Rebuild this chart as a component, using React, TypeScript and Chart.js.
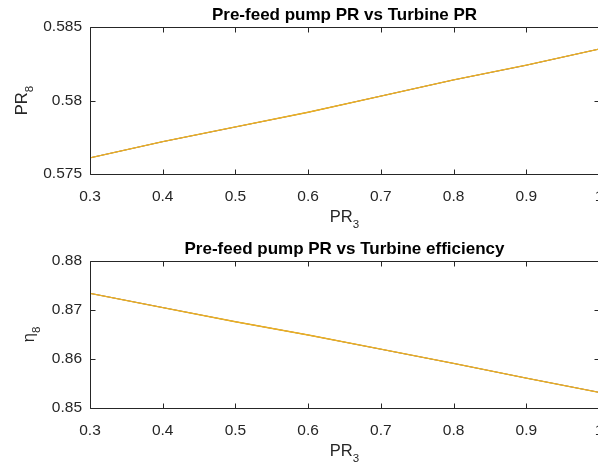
import React, { useEffect, useRef } from 'react';
import { Chart, registerables } from 'chart.js';

Chart.register(...registerables);

// ---- data ----
const prefeedPR = [0.3, 0.4, 0.5, 0.6, 0.7, 0.8, 0.9, 1.0];
const turbinePR = [0.5761, 0.5772, 0.5782, 0.5792, 0.5803, 0.5814, 0.5824, 0.5835];
const turbineEff = [0.8734, 0.8705, 0.8676, 0.8649, 0.8620, 0.8591, 0.8561, 0.8532];
const xRange = [0.3, 1.0];
const topYRange = [0.575, 0.585];
const bottomYRange = [0.85, 0.88];
const topTitle = 'Pre-feed pump PR vs Turbine PR';
const bottomTitle = 'Pre-feed pump PR vs Turbine efficiency';
const seriesColors = ['#0072BD', '#D95319', '#EDB120'];
const seriesWidths = [0.7, 0.7, 1.3];

const FONT = '"Liberation Sans", Arial, Helvetica, sans-serif';
const AXIS_COLOR = '#262626';

type Lbl = { main: string; sub: string };

const matlabAxes = {
  id: 'matlabAxes',
  afterDraw(chart: any, _args: any, opts: any) {
    const ctx = chart.ctx;
    const { left, right, top, bottom } = chart.chartArea;
    const xs = chart.scales.x;
    const ys = chart.scales.y;
    ctx.save();
    ctx.strokeStyle = AXIS_COLOR;
    ctx.lineWidth = 1;
    const L = Math.round(left) + 0.5, R = Math.round(right) + 0.5;
    const T = Math.round(top) + 0.5, B = Math.round(bottom) + 0.5;
    ctx.beginPath();
    ctx.rect(L, T, R - L, B - T);
    ctx.stroke();
    const tl = 5;
    ctx.beginPath();
    xs.ticks.forEach((t: any) => {
      const p = Math.round(xs.getPixelForValue(t.value)) + 0.5;
      ctx.moveTo(p, B); ctx.lineTo(p, B - tl);
      ctx.moveTo(p, T); ctx.lineTo(p, T + tl);
    });
    ys.ticks.forEach((t: any) => {
      const p = Math.round(ys.getPixelForValue(t.value)) + 0.5;
      ctx.moveTo(L, p); ctx.lineTo(L + tl, p);
      ctx.moveTo(R, p); ctx.lineTo(R - tl, p);
    });
    ctx.stroke();

    const cx = (left + right) / 2;
    // title
    ctx.fillStyle = '#000';
    ctx.font = `bold 17px ${FONT}`;
    ctx.textAlign = 'center';
    ctx.textBaseline = 'alphabetic';
    ctx.fillText(opts.title, cx, top - 7);

    // x label
    const xl: Lbl = opts.xLabel;
    ctx.fillStyle = AXIS_COLOR;
    ctx.font = `16.5px ${FONT}`;
    const wMain = ctx.measureText(xl.main).width;
    ctx.font = `11.5px ${FONT}`;
    const wSub = ctx.measureText(xl.sub).width;
    const x0 = cx - (wMain + wSub) / 2;
    ctx.textAlign = 'left';
    ctx.font = `16.5px ${FONT}`;
    ctx.fillText(xl.main, x0, bottom + 48);
    ctx.font = `11.5px ${FONT}`;
    ctx.fillText(xl.sub, x0 + wMain, bottom + 54);

    // y label (rotated)
    const yl: Lbl = opts.yLabel;
    const cy = (top + bottom) / 2;
    ctx.translate(opts.yLabelX, cy);
    ctx.rotate(-Math.PI / 2);
    ctx.font = `16.5px ${FONT}`;
    const ywMain = ctx.measureText(yl.main).width;
    ctx.font = `11.5px ${FONT}`;
    const ywSub = ctx.measureText(yl.sub).width;
    const y0 = -(ywMain + ywSub) / 2;
    ctx.font = `16.5px ${FONT}`;
    ctx.fillText(yl.main, y0, 0);
    ctx.font = `11.5px ${FONT}`;
    ctx.fillText(yl.sub, y0 + ywMain, 6);
    ctx.restore();
  },
};

const fmt = (v: any) => String(Number(Number(v).toFixed(4)));

function makeConfig(
  yValues: number[],
  yRange: number[],
  yStep: number,
  title: string,
  yLabel: Lbl,
  yLabelX: number,
  topPad: number,
  xAxisHeight: number
): any {
  const pts = prefeedPR.map((x, i) => ({ x, y: yValues[i] }));
  return {
    type: 'line',
    data: {
      datasets: seriesColors.map((c, i) => ({
        data: pts,
        borderColor: c,
        borderWidth: seriesWidths[i],
        pointRadius: 0,
        fill: false,
        tension: 0,
        order: seriesColors.length - i,
      })),
    },
    plugins: [matlabAxes],
    options: {
      animation: false,
      responsive: false,
      maintainAspectRatio: false,
      layout: { padding: { top: topPad, right: 21, left: 0, bottom: 0 } },
      plugins: {
        legend: { display: false },
        tooltip: { enabled: false },
        title: { display: false },
        matlabAxes: { title, xLabel: { main: 'PR', sub: '3' }, yLabel, yLabelX },
      },
      scales: {
        x: {
          type: 'linear',
          min: xRange[0],
          max: xRange[1],
          grid: { display: true, drawOnChartArea: false, drawTicks: false },
          border: { display: false },
          ticks: {
            stepSize: 0.1,
            autoSkip: false,
            maxRotation: 0,
            padding: 13,
            color: AXIS_COLOR,
            font: { family: FONT, size: 15.5 },
            callback: fmt,
          },
          afterFit: (s: any) => { s.height = xAxisHeight; },
        },
        y: {
          type: 'linear',
          min: yRange[0],
          max: yRange[1],
          grid: { display: true, drawOnChartArea: false, drawTicks: false },
          border: { display: false },
          ticks: {
            stepSize: yStep,
            autoSkip: false,
            padding: 8,
            color: AXIS_COLOR,
            font: { family: FONT, size: 15.5 },
            callback: fmt,
          },
          afterFit: (s: any) => { s.width = 90; },
        },
      },
    },
  };
}

function Panel({ cfg, top, height }: { cfg: any; top: number; height: number }) {
  const ref = useRef<HTMLCanvasElement>(null);
  useEffect(() => {
    if (!ref.current) return;
    const chart = new Chart(ref.current, cfg);
    return () => chart.destroy();
  }, [cfg]);
  return (
    <canvas
      ref={ref}
      width={620}
      height={height}
      style={{ position: 'absolute', left: 0, top, width: 620, height }}
    />
  );
}

const topCfg = makeConfig(turbinePR, topYRange, 0.005, topTitle, { main: 'PR', sub: '8' }, 27, 27, 232 - 174);
const bottomCfg = makeConfig(turbineEff, bottomYRange, 0.01, bottomTitle, { main: 'η', sub: '8' }, 34, 29, 233 - 176);

export default function App() {
  useEffect(() => {
    document.body.style.margin = '0';
    document.body.style.background = '#fff';
  }, []);
  return (
    <div style={{ position: 'absolute', left: 0, top: 0, width: 598, height: 465, overflow: 'hidden', background: '#fff' }}>
      <Panel cfg={topCfg} top={0} height={232} />
      <Panel cfg={bottomCfg} top={232} height={233} />
    </div>
  );
}
